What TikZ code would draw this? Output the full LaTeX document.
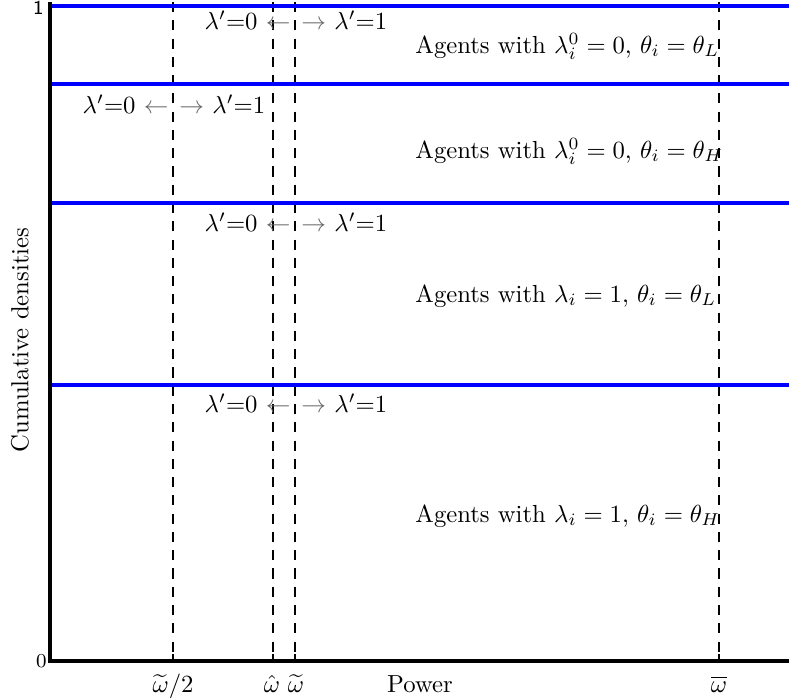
\documentclass[tikz,border=0pt]{standalone}
\begin{document}
\begin{tikzpicture}[x=0.405pt,y=-0.405pt,
  bluerule/.style={color={rgb,255:red,0;green,0;blue,255}, line width=1.35pt},
  axisline/.style={black, line width=1.3pt},
  guide/.style={black, line width=0.82pt, dash pattern=on 4.1pt off 3.3pt},
  tickline/.style={black, line width=0.82pt},
  lab/.style={inner sep=0pt},
  numlab/.style={inner sep=0pt, font=\sffamily\footnotesize}]
\useasboundingbox (0,0) rectangle (789,699);
% guides
\foreach \xx/\nm in {173/g1,273/g2,295/g3,719/g4}{
  \coordinate (\nm t) at (\xx,2);
  \coordinate (\nm b) at (\xx,661);
  \draw[guide] (\nm t) -- (\nm b);
  \draw[tickline] (\xx,654) -- (\nm b);
}
% blue rules
\foreach \yy/\nm in {6/r1,84/r2,203/r3,385/r4}{
  \coordinate (\nm l) at (50,\yy);
  \coordinate (\nm r) at (789,\yy);
  \draw[bluerule] (\nm l) -- (\nm r);
}
% axes
\coordinate (O) at (50,661);
\coordinate (Ytop) at (50,2);
\coordinate (Xend) at (789,661);
\draw[axisline] (Ytop) -- (O) -- (Xend);
\node[numlab, anchor=east] (one) at (44,8) {1};
\node[lab, anchor=east, font=\footnotesize] (zero) at (47,661) {0};
% switching labels
\foreach \yy/\cx/\nm in {20/296/a,104/174/b,222/296/c,403/296/d}{
  \node[lab, anchor=east] (\nm L) at (\cx-5,\yy) {$\lambda'{=}0$ \textcolor{black!60}{$\leftarrow$}};
  \node[lab, anchor=west] (\nm R) at (\cx+5,\yy) {\textcolor{black!60}{$\rightarrow$} $\lambda'{=}1$};
}
% region labels
\node[lab, anchor=base west] (t1) at (415,53) {Agents with $\lambda_i^0=0$, $\theta_i=\theta_L$};
\node[lab, anchor=base west] (t2) at (415,158) {Agents with $\lambda_i^0=0$, $\theta_i=\theta_H$};
\node[lab, anchor=base west] (t3) at (415,302) {Agents with $\lambda_i=1$, $\theta_i=\theta_L$};
\node[lab, anchor=base west] (t4) at (415,522) {Agents with $\lambda_i=1$, $\theta_i=\theta_H$};
% axis labels
\node[lab, rotate=90] (ylab) at (20,340) {Cumulative densities};
\node[lab, anchor=base] (xlab) at (420,692) {Power};
\node[lab, anchor=base] (w1) at (173,692) {$\widetilde{\omega}/2$};
\node[lab, anchor=base] (w2) at (272,692) {$\hat{\omega}$};
\node[lab, anchor=base] (w3) at (296,692) {$\widetilde{\omega}$};
\node[lab, anchor=base] (w4) at (719,692) {$\overline{\omega}$};
\end{tikzpicture}
\end{document}
